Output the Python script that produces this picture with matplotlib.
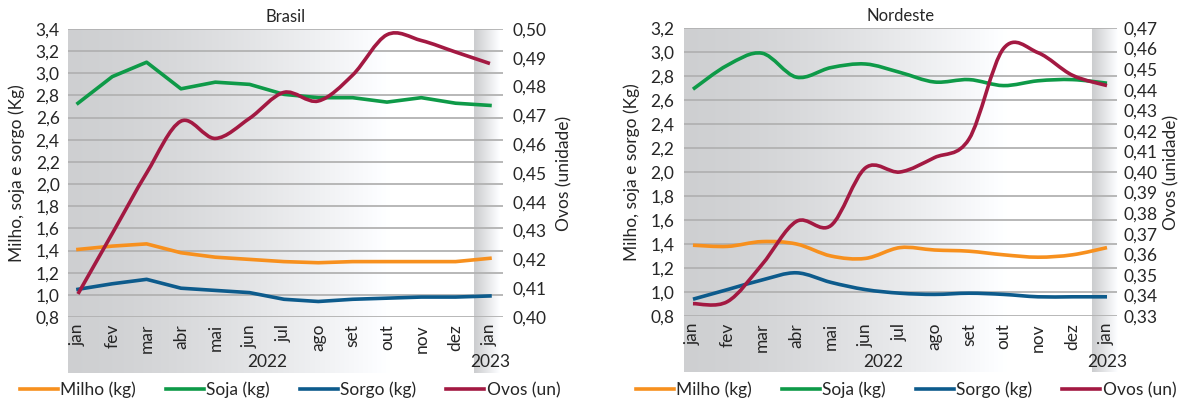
import numpy as np
import matplotlib
matplotlib.use('Agg')
import matplotlib.pyplot as plt
from matplotlib.path import Path
from matplotlib.patches import PathPatch
from matplotlib.lines import Line2D
from matplotlib.ticker import FuncFormatter
from matplotlib.transforms import blended_transform_factory

plt.rcParams['font.family'] = ['Lato', 'DejaVu Sans']
plt.rcParams['text.color'] = '#262626'
plt.rcParams['axes.labelcolor'] = '#262626'
plt.rcParams['xtick.color'] = '#262626'
plt.rcParams['ytick.color'] = '#262626'

# dados
meses = ['jan', 'fev', 'mar', 'abr', 'mai', 'jun', 'jul', 'ago', 'set', 'out', 'nov', 'dez', 'jan']

br_milho = [1.41, 1.44, 1.46, 1.38, 1.34, 1.32, 1.30, 1.29, 1.30, 1.30, 1.30, 1.30, 1.33]
br_soja = [2.73, 2.97, 3.10, 2.86, 2.92, 2.90, 2.81, 2.78, 2.78, 2.74, 2.78, 2.73, 2.71]
br_sorgo = [1.05, 1.10, 1.14, 1.06, 1.04, 1.02, 0.96, 0.94, 0.96, 0.97, 0.98, 0.98, 0.99]
br_ovos = [0.408, 0.429, 0.450, 0.468, 0.462, 0.469, 0.478, 0.475, 0.484, 0.498, 0.496, 0.492, 0.488]

ne_milho = [1.39, 1.38, 1.42, 1.40, 1.30, 1.28, 1.37, 1.35, 1.34, 1.31, 1.29, 1.31, 1.37]
ne_soja = [2.69, 2.89, 2.99, 2.79, 2.87, 2.90, 2.83, 2.75, 2.77, 2.72, 2.76, 2.77, 2.74]
ne_sorgo = [0.94, 1.02, 1.10, 1.16, 1.08, 1.02, 0.99, 0.98, 0.99, 0.98, 0.96, 0.96, 0.96]
ne_ovos = [0.336, 0.337, 0.355, 0.376, 0.374, 0.402, 0.400, 0.407, 0.416, 0.460, 0.458, 0.447, 0.442]

c_milho = '#F7901E'
c_soja = '#0E9A48'
c_sorgo = '#0D5B8C'
c_ovos = '#A31942'
LW = 2.6
FS = 12.5

W, H = 1184, 401
fig = plt.figure(figsize=(W / 100, H / 100), dpi=100)


def px_rect(x0, y0, x1, y1):
    return [x0 / W, 1 - y1 / H, (x1 - x0) / W, (y1 - y0) / H]


def smooth_path(x, y):
    # curva suave tipo excel (bezier catmull-rom)
    x = np.asarray(x, float)
    y = np.asarray(y, float)
    n = len(x)
    verts = [(x[0], y[0])]
    codes = [Path.MOVETO]
    for i in range(n - 1):
        i0 = max(i - 1, 0)
        i3 = min(i + 2, n - 1)
        c1 = (x[i] + (x[i + 1] - x[i0]) / 6, y[i] + (y[i + 1] - y[i0]) / 6)
        c2 = (x[i + 1] - (x[i3] - x[i]) / 6, y[i + 1] - (y[i3] - y[i]) / 6)
        verts += [c1, c2, (x[i + 1], y[i + 1])]
        codes += [Path.CURVE4] * 3
    return Path(verts, codes)


def draw_line(ax, y, color, smooth):
    x = np.arange(len(y))
    if smooth:
        ax.add_patch(PathPatch(smooth_path(x, y), fill=False, edgecolor=color,
                               lw=LW, capstyle='butt', joinstyle='round'))
    else:
        ax.plot(x, y, color=color, lw=LW, solid_joinstyle='round')


def fundo(x0, xband, x1, y0, y1):
    bg = fig.add_axes(px_rect(x0, y0, x1, y1))
    bg.axis('off')
    n = x1 - x0
    cols = np.ones(n)
    for k in range(n):
        px = x0 + k
        if px < xband:
            t = min((px - x0) / 322.0, 1.0)
            cols[k] = 0.81 + 0.19 * t ** 1.5
        else:
            t = min((px - xband) / 26.0, 1.0)
            cols[k] = 0.80 + 0.20 * t
    img = np.stack([cols, cols + 0.004, cols + 0.012], axis=-1)
    img = np.clip(img, 0, 1)[None, :, :]
    bg.imshow(img, aspect='auto', extent=(0, 1, 0, 1))
    bg.set_xlim(0, 1)
    bg.set_ylim(0, 1)


def painel(rect_px, band_px, titulo, dados, ovos, lims, rlims, rticks, smooth_all,
           xlim, lab_l, lab_r, lpad, rpad):
    x0, y0, x1, y1 = rect_px
    fundo(x0, band_px, x1, y0, y1 + 56)
    ax = fig.add_axes(px_rect(x0, y0, x1, y1))
    ax.set_facecolor('none')
    for yv, cor in zip(dados, [c_milho, c_soja, c_sorgo]):
        draw_line(ax, yv, cor, smooth_all)
    ax.set_xlim(*xlim)
    ax.set_ylim(*lims)
    ax.set_yticks(np.arange(lims[0], lims[1] + 0.01, 0.2))
    ax.yaxis.set_major_formatter(FuncFormatter(lambda v, p: f'{v:.1f}'.replace('.', ',')))
    ax.set_xticks(np.arange(len(meses)))
    ax.set_xticklabels(meses, rotation=90)
    ax.tick_params(axis='both', length=0, labelsize=FS)
    ax.tick_params(axis='x', pad=5)
    ax.tick_params(axis='y', pad=lpad)
    ax.grid(axis='y', color='#b2b2b2', lw=1.3)
    ax.set_axisbelow(True)
    for s in ax.spines.values():
        s.set_visible(False)
    ax.set_title(titulo, fontsize=12, pad=5)
    ax.set_ylabel('Milho, soja e sorgo (Kg)', fontsize=FS)
    ax.yaxis.set_label_coords(lab_l, 0.5)

    ax2 = ax.twinx()
    ax2.set_facecolor('none')
    draw_line(ax2, ovos, c_ovos, True)
    ax2.set_xlim(*xlim)
    ax2.set_ylim(*rlims)
    ax2.set_yticks(rticks)
    ax2.yaxis.set_major_formatter(FuncFormatter(lambda v, p: f'{v:.2f}'.replace('.', ',')))
    ax2.tick_params(axis='y', length=0, labelsize=FS, pad=rpad)
    for s in ax2.spines.values():
        s.set_visible(False)
    ax2.set_ylabel('Ovos (unidade)', fontsize=FS, rotation=90)
    ax2.yaxis.set_label_coords(lab_r, 0.5)

    tr = blended_transform_factory(ax.transData, ax.transAxes)
    yy = (y1 - 362) / (y1 - y0)
    ax.text(5.5, yy, '2022', transform=tr, ha='center', va='center', fontsize=FS)
    ax.text(12, yy, '2023', transform=tr, ha='center', va='center', fontsize=FS)
    return ax


painel((68, 29, 503, 317), 474, 'Brasil', [br_milho, br_soja, br_sorgo], br_ovos,
       (0.8, 3.4), (0.40, 0.50), np.arange(0.40, 0.5001, 0.01), False,
       (-0.29, 12.38), -0.099, 1.122, 6, 7)
painel((684, 28, 1117, 316), 1091, 'Nordeste', [ne_milho, ne_soja, ne_sorgo], ne_ovos,
       (0.8, 3.2), (0.33, 0.47), np.arange(0.33, 0.4701, 0.01), True,
       (-0.26, 12.29), -0.102, 1.106, 7, 5)

nomes = ['Milho (kg)', 'Soja (kg)', 'Sorgo (kg)', 'Ovos (un)']
cores = [c_milho, c_soja, c_sorgo, c_ovos]
handles = [Line2D([0], [0], color=c, lw=LW) for c in cores]
for cx in [290, 906]:
    fig.legend(handles, nomes, loc='center', bbox_to_anchor=(cx / W, 1 - 390 / H),
               ncol=4, frameon=False, fontsize=FS, handlelength=2.2,
               handletextpad=0.15, columnspacing=1.7)

fig.savefig('out.png', dpi=100)
